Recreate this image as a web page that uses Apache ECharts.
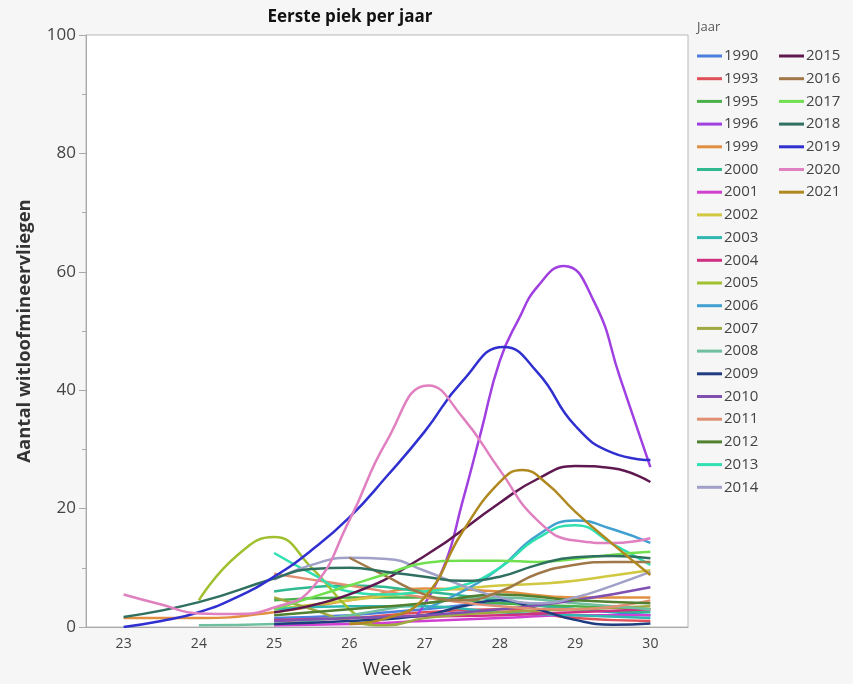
<!DOCTYPE html>
<html>
<head>
<meta charset="utf-8">
<script src="https://cdn.jsdelivr.net/npm/echarts@6/dist/echarts.min.js"></script>
<style>
  html, body { margin: 0; padding: 0; background: #f6f6f6; }
  #main { width: 853px; height: 684px; }
</style>
</head>
<body>
<div id="main"></div>
<script>
// years shown in the legend, in order
var years = ['1990','1993','1995','1996','1999','2000','2001','2002','2003','2004',
	'2005','2006','2007','2008','2009','2010','2011','2012','2013','2014',
	'2015','2016','2017','2018','2019','2020','2021'];

var colors = ['#4a7fe0','#e0505a','#4ab04a','#a040e0','#e09040','#30b890','#d040d0','#d0c840','#30b8b0','#d03080',
	'#a0c030','#40a0d0','#a0a840','#70c0a0','#203c80','#8050b0','#e09070','#508030','#30e0b0','#a0a0c8',
	'#601850','#a07848','#70e050','#307060','#3030d0','#e080c0','#b08820'];

// [week, count] for each year
var y1990 = [[25,1.5],[26,2],[27,3],[28,4],[29,3],[30,2]];
var y1993 = [[25,1],[26,1.5],[27,2.5],[28,3],[29,1.5],[30,1]];
var y1995 = [[25,4.5],[26,5],[27,5],[28,4],[29,3.5],[30,3]];
var y1996 = [[26.9,2],[27.25,10],[27.5,21],[27.75,33],[28,45],[28.25,52],[28.5,57.5],[28.85,61],[29.25,55],[29.6,42],[30,27]];
var y1999 = [[23,1.5],[24,1.5],[25,2.5],[26,4.5],[27,6.5],[28,6],[29,5],[30,5]];
var y2000 = [[25,6],[26,7],[27,6],[28,4.5],[29,3],[30,2.5]];
var y2001 = [[25,0.3],[26,0.5],[27,1],[28,1.5],[29,2],[30,2]];
var y2002 = [[25,3],[26,4.5],[27,6],[27.5,6.5],[28,7],[28.5,7.3],[29,7.8],[29.5,8.7],[30,9.6]];
var y2003 = [[25,3],[26,3.5],[27,3.5],[28,2.5],[29,2],[30,1.5]];
var y2004 = [[25,1.2],[26,1.5],[27,1.8],[28,2],[29,2.5],[30,3]];
var y2005 = [[24,4.5],[24.5,12],[25,15.2],[25.5,10],[26,3],[26.3,0.6]];
var y2006 = [[27,3],[27.5,6],[28,10],[28.5,15.5],[29,18],[29.5,16.5],[30,14.2]];
var y2007 = [[25,5],[25.5,3],[26,1],[26.5,0.3],[27,1.5],[28,2.5],[29,3],[30,3.5]];
var y2008 = [[24,0.3],[25,0.5],[26,2],[27,4],[28,5],[29,4],[30,3]];
var y2009 = [[25,0.5],[26,1],[27,2],[27.5,3.5],[28,4.5],[28.5,3],[29,1.2],[29.5,0.4],[30,0.6]];
var y2010 = [[25,1],[26,1.5],[27,2],[28,3],[29,4.5],[30,6.7]];
var y2011 = [[25,9],[25.5,8],[26,7],[27,5],[28,3.5],[29,3],[30,4.5]];
var y2012 = [[25,2],[26,3],[27,4],[28,5.5],[29,4.5],[30,4]];
var y2013 = [[25,12.5],[25.5,9],[26,6],[26.5,5.5],[27,6],[27.5,7],[28,10],[28.5,15],[29,17.2],[29.5,14],[30,10.5]];
var y2014 = [[25,8],[25.5,10.5],[26,11.7],[26.5,11.5],[27,9.5],[27.5,7],[28,5],[28.5,4],[29,5],[29.5,7],[30,9.3]];
var y2015 = [[25,2.5],[26,5.5],[27,12],[28,21],[28.5,25],[29,27.2],[29.5,26.8],[30,24.5]];
var y2016 = [[26,11.7],[26.5,8.5],[27,5.5],[27.5,4.5],[28,6],[28.5,9],[29,10.5],[29.5,11],[30,11]];
var y2017 = [[25,3],[25.5,5],[26,7],[26.5,9],[27,10.8],[27.5,11.2],[28,11.2],[28.5,11],[29,11.5],[29.5,12.2],[30,12.7]];
var y2018 = [[23,1.7],[24,4.2],[25,8.2],[25.5,9.8],[26,10],[26.5,9.3],[27,8.5],[27.5,7.8],[28,8.5],[28.5,10.5],[29,11.8],[29.5,12],[30,11.6]];
var y2019 = [[23,0],[23.5,1],[24,2.5],[24.5,5],[25,8.5],[25.5,13],[26,18.5],[26.5,25.5],[27,33],[27.5,41.5],[28.05,47.3],
	[28.5,43],[29,34],[29.5,29.4],[30,28.2]];
var y2020 = [[23,5.5],[23.5,3.8],[24,2.3],[24.5,2.2],[25,3.3],[25.5,6.5],[26,18],[26.5,31.5],[27.05,40.8],
	[27.5,35.5],[28,26.5],[28.5,18],[29,14.6],[29.5,14.2],[30,15]];
var y2021 = [[26,0.5],[26.5,1.5],[27,5],[27.5,16],[28,24.5],[28.3,26.5],[28.6,24.5],[29,19.5],[29.5,14],[30,8.8]];

var yearData = [y1990,y1993,y1995,y1996,y1999,y2000,y2001,y2002,y2003,y2004,
	y2005,y2006,y2007,y2008,y2009,y2010,y2011,y2012,y2013,y2014,
	y2015,y2016,y2017,y2018,y2019,y2020,y2021];

var yTicks = [0,20,40,60,80,100];
var weekTicks = [23,24,25,26,27,28,29,30];

var myChart = echarts.init(document.getElementById('main'));

var series = [];
for (var i = 0; i < years.length; i++) {
	series.push({
		name: years[i],
		type: 'line',
		smooth: 0.5,
		showSymbol: false,
		data: yearData[i],
		lineStyle: {width: 2.5, color: colors[i]},
		itemStyle: {color: colors[i]}
	});
}

var legendBase = {
	orient: 'vertical',
	icon: 'rect',
	itemWidth: 25,
	itemHeight: 3,
	itemGap: 6.7,
	textStyle: {fontSize: 15, lineHeight: 16, color: '#444', fontFamily: 'Open Sans', padding: [0, 0, 0, -3]}
};

var option = {
	backgroundColor: '#f6f6f6',
	animation: false,
	color: colors,
	title: [
		{
			text: 'Eerste piek per jaar',
			left: 345,
			textAlign: 'center',
			top: 4,
			textStyle: {fontSize: 17, fontWeight: 'bold', color: '#111', fontFamily: 'Open Sans'}
		},
		{
			text: 'Jaar',
			left: 692,
			top: 16,
			textStyle: {fontSize: 13, fontWeight: 'normal', color: '#555', fontFamily: 'Open Sans'}
		}
	],
	legend: [
		Object.assign({data: years.slice(0, 20), left: 692, top: 43}, legendBase),
		Object.assign({data: years.slice(20), left: 774, top: 43}, legendBase)
	],
	grid: {
		left: 86, right: 165, top: 35, bottom: 57,
		show: true,
		backgroundColor: '#ffffff',
		borderColor: '#b8b8b8',
		borderWidth: 1
	},
	xAxis: {
		type: 'value',
		min: 22.5,
		max: 30.5,
		interval: 0.5,
		name: 'Week',
		nameLocation: 'middle',
		nameGap: 33,
		nameTextStyle: {fontSize: 19, color: '#333', fontFamily: 'Open Sans'},
		axisLine: {lineStyle: {color: '#aaa'}},
		axisTick: {show: false},
		splitLine: {show: false},
		axisLabel: {
			fontSize: 14, color: '#444', fontFamily: 'Open Sans', margin: 10,
			formatter: function (v) {
				return weekTicks.indexOf(v) >= 0 ? String(v) : '';
			}
		}
	},
	yAxis: {
		type: 'value',
		min: yTicks[0],
		max: yTicks[yTicks.length - 1],
		interval: 20,
		name: 'Aantal witloofmineervliegen',
		nameLocation: 'middle',
		nameGap: 52,
		nameTextStyle: {fontSize: 18.5, fontWeight: 'bold', color: '#333', fontFamily: 'Open Sans'},
		axisLine: {show: true, lineStyle: {color: '#aaa'}},
		axisTick: {show: true, length: 7, lineStyle: {color: '#aaa'}},
		minorTick: {show: true, splitNumber: 2, length: 4, lineStyle: {color: '#aaa'}},
		splitLine: {show: false},
		axisLabel: {fontSize: 17, color: '#444', fontFamily: 'Open Sans', margin: 10}
	},
	series: series
};

myChart.setOption(option);
</script>
</body>
</html>
